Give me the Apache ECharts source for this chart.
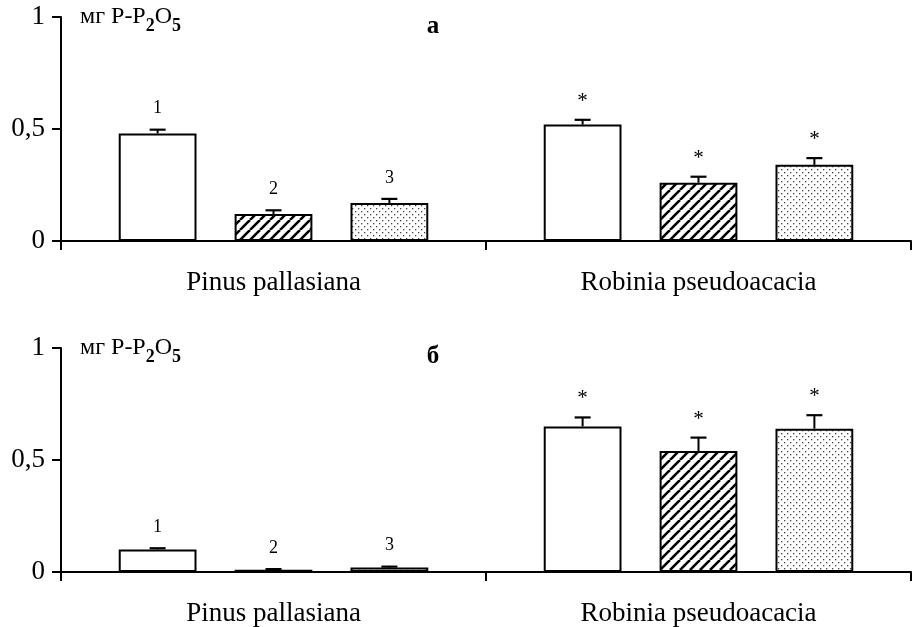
<!DOCTYPE html>
<html>
<head>
<meta charset="utf-8">
<script src="https://cdn.jsdelivr.net/npm/echarts@6/dist/echarts.min.js"></script>
<style>
html,body{margin:0;padding:0;background:#fff;}
#chart{width:912px;height:627px;}
</style>
</head>
<body>
<div id="chart"></div>
<script>
// ---- data ----
const categories = ['Pinus pallasiana', 'Robinia pseudoacacia'];
const yTicks = [0, 0.5, 1];
// panel "а"
const a1 = [0.48, 0.52];
const a2 = [0.12, 0.26];
const a3 = [0.17, 0.34];
const a1Err = [0.017, 0.021];
const a2Err = [0.017, 0.027];
const a3Err = [0.018, 0.030];
// panel "б"
const b1 = [0.10, 0.65];
const b2 = [0.01, 0.54];
const b3 = [0.02, 0.64];
const b1Err = [0.006, 0.040];
const b2Err = [0.003, 0.060];
const b3Err = [0.004, 0.060];
// marks above bars
const marks1 = ['1', '*'];
const marks2 = ['2', '*'];
const marks3 = ['3', '*'];
const panelTitles = ['а', 'б'];
const unitLabel = ['мг P-P', '2', 'O', '5'];

// ---- patterns ----
function hatchPattern() {
  const c = document.createElement('canvas');
  const s = 10;
  c.width = s; c.height = s;
  const ctx = c.getContext('2d');
  ctx.fillStyle = '#fff'; ctx.fillRect(0, 0, s, s);
  ctx.strokeStyle = '#000'; ctx.lineWidth = 2.6;
  for (const k of [-s, 0, s]) {
    ctx.beginPath(); ctx.moveTo(k, s); ctx.lineTo(k + s, 0); ctx.stroke();
  }
  return c;
}
function dotPattern() {
  const c = document.createElement('canvas');
  const s = 6;
  c.width = s; c.height = s;
  const ctx = c.getContext('2d');
  ctx.fillStyle = '#fff'; ctx.fillRect(0, 0, s, s);
  ctx.fillStyle = '#444';
  ctx.fillRect(1, 1, 1.3, 1.3);
  ctx.fillRect(4, 4, 1.3, 1.3);
  return c;
}
const fills = ['#ffffff', { image: hatchPattern(), repeat: 'repeat' }, { image: dotPattern(), repeat: 'repeat' }];

const FONT = 'Liberation Serif';
const BAR_W = 0.183;   // fraction of category width
const BAR_GAP = 0.49;  // fraction of bar width

function errSeries(gridIdx, sIdx, vals, errs, marks) {
  return {
    type: 'custom',
    xAxisIndex: gridIdx, yAxisIndex: gridIdx,
    z: 5,
    data: vals.map((v, i) => [i, v, errs[i]]),
    renderItem: function (params, api) {
      const cat = api.value(0), v = api.value(1), e = api.value(2);
      const band = api.size([1, 0])[0];
      const off = (sIdx - 1) * band * BAR_W * (1 + BAR_GAP);
      const p0 = api.coord([cat, v]);
      const p1 = api.coord([cat, v + e]);
      const x = p0[0] + off;
      const txt = marks[params.dataIndex];
      const isStar = txt === '*';
      return {
        type: 'group',
        children: [
          { type: 'line', shape: { x1: x, y1: p0[1], x2: x, y2: p1[1] }, style: { stroke: '#000', lineWidth: 2 } },
          { type: 'line', shape: { x1: x - 8, y1: p1[1], x2: x + 8, y2: p1[1] }, style: { stroke: '#000', lineWidth: 2.2 } },
          { type: 'text', style: { text: txt, x: x, y: p1[1] - (isStar ? 8 : 12), align: 'center', verticalAlign: 'bottom',
              fontFamily: FONT, fontSize: isStar ? 21 : 18, fill: '#000' } }
        ]
      };
    }
  };
}
function barSeries(gridIdx, sIdx, vals) {
  return {
    type: 'bar',
    xAxisIndex: gridIdx, yAxisIndex: gridIdx,
    data: vals,
    barWidth: (BAR_W * 100) + '%',
    barGap: (BAR_GAP * 100) + '%',
    itemStyle: { color: fills[sIdx], borderColor: '#000', borderWidth: 2 },
    silent: true
  };
}

const grids = [
  { left: 61, right: 1, top: 17, height: 224 },
  { left: 61, right: 1, top: 348, height: 224 }
];
function xAx(g) {
  return {
    type: 'category', gridIndex: g, data: categories,
    axisLine: { lineStyle: { color: '#000', width: 2 } },
    axisTick: { show: true, length: 9, lineStyle: { color: '#000', width: 2 } },
    axisLabel: { color: '#000', fontFamily: FONT, fontSize: 27, margin: 28 }
  };
}
function yAx(g) {
  return {
    type: 'value', gridIndex: g, min: yTicks[0], max: yTicks[yTicks.length - 1], interval: 0.5,
    axisLine: { show: true, lineStyle: { color: '#000', width: 2 } },
    axisTick: { show: true, length: 9, lineStyle: { color: '#000', width: 2 } },
    splitLine: { show: false },
    axisLabel: { color: '#000', fontFamily: FONT, fontSize: 27, margin: 16,
      formatter: v => String(v).replace('.', ',') }
  };
}
function unitText(y) {
  return {
    type: 'text', left: 80, top: y,
    style: {
      text: '{a|' + unitLabel[0] + '}{s|' + unitLabel[1] + '}{a|' + unitLabel[2] + '}{s|' + unitLabel[3] + '}',
      rich: {
        a: { fontFamily: FONT, fontSize: 24, lineHeight: 30, verticalAlign: 'top', fill: '#000', color: '#000' },
        s: { fontFamily: FONT, fontSize: 18, fontWeight: 'bold', lineHeight: 15, verticalAlign: 'bottom', fill: '#000', color: '#000' }
      }
    }
  };
}
function titleText(t, y) {
  return { type: 'text', x: 433, y: y,
    style: { text: t, fontFamily: FONT, fontSize: 25, fontWeight: 'bold', fill: '#000', align: 'center', verticalAlign: 'middle' } };
}

const chart = echarts.init(document.getElementById('chart'), null, { renderer: 'canvas' });
chart.setOption({
  animation: false,
  backgroundColor: '#fff',
  grid: grids,
  xAxis: [xAx(0), xAx(1)],
  yAxis: [yAx(0), yAx(1)],
  graphic: [unitText(5), unitText(336), titleText(panelTitles[0], 27), titleText(panelTitles[1], 357)],
  series: [
    barSeries(0, 0, a1), barSeries(0, 1, a2), barSeries(0, 2, a3),
    barSeries(1, 0, b1), barSeries(1, 1, b2), barSeries(1, 2, b3),
    errSeries(0, 0, a1, a1Err, marks1), errSeries(0, 1, a2, a2Err, marks2), errSeries(0, 2, a3, a3Err, marks3),
    errSeries(1, 0, b1, b1Err, marks1), errSeries(1, 1, b2, b2Err, marks2), errSeries(1, 2, b3, b3Err, marks3)
  ]
});
</script>
</body>
</html>
